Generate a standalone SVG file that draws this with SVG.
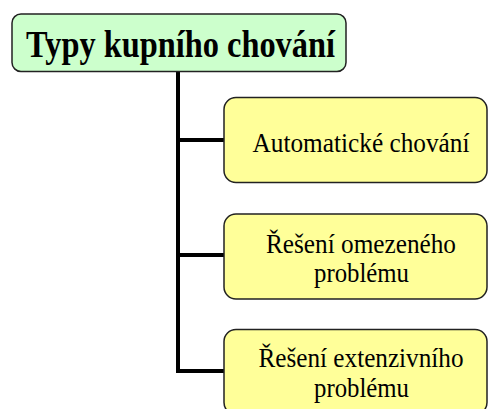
<svg xmlns="http://www.w3.org/2000/svg" width="488" height="409" viewBox="0 0 488 409">
<style>
.box{stroke:#222;stroke-width:1.5}
.root{fill:#ccffcc}
.leaf{fill:#ffff99}
.t{font-family:"Liberation Serif","Times New Roman",serif;fill:#000;text-anchor:middle}
.conn{fill:none;stroke:#000;stroke-width:4;stroke-linecap:butt;stroke-linejoin:miter}
</style>
<rect width="488" height="409" fill="#fff"/>
<g id="connectors">
<path class="conn" d="M178 71 V371 H224"/>
<path class="conn" d="M178 140 H224"/>
<path class="conn" d="M178 255 H224"/>
</g>
<g id="root">
<rect class="box root" x="12" y="14" width="334" height="57.5" rx="9"/>
<text class="t" x="180.5" y="57" font-size="37" font-weight="bold" textLength="309" lengthAdjust="spacingAndGlyphs">Typy kupního chování</text>
</g>
<g id="n1">
<rect class="box leaf" x="224" y="97.5" width="263" height="85" rx="12"/>
<text class="t" x="361" y="151.5" font-size="27" textLength="217" lengthAdjust="spacingAndGlyphs">Automatické chování</text>
</g>
<g id="n2">
<rect class="box leaf" x="224" y="214" width="263" height="85" rx="12"/>
<text class="t" x="361" y="253" font-size="27" textLength="190" lengthAdjust="spacingAndGlyphs">Řešení omezeného</text>
<text class="t" x="361.5" y="281.5" font-size="27" textLength="95" lengthAdjust="spacingAndGlyphs">problému</text>
</g>
<g id="n3">
<rect class="box leaf" x="224" y="329.5" width="263" height="85" rx="12"/>
<text class="t" x="361" y="366.5" font-size="27" textLength="205" lengthAdjust="spacingAndGlyphs">Řešení extenzivního</text>
<text class="t" x="361.5" y="396.5" font-size="27" textLength="95" lengthAdjust="spacingAndGlyphs">problému</text>
</g>
</svg>
